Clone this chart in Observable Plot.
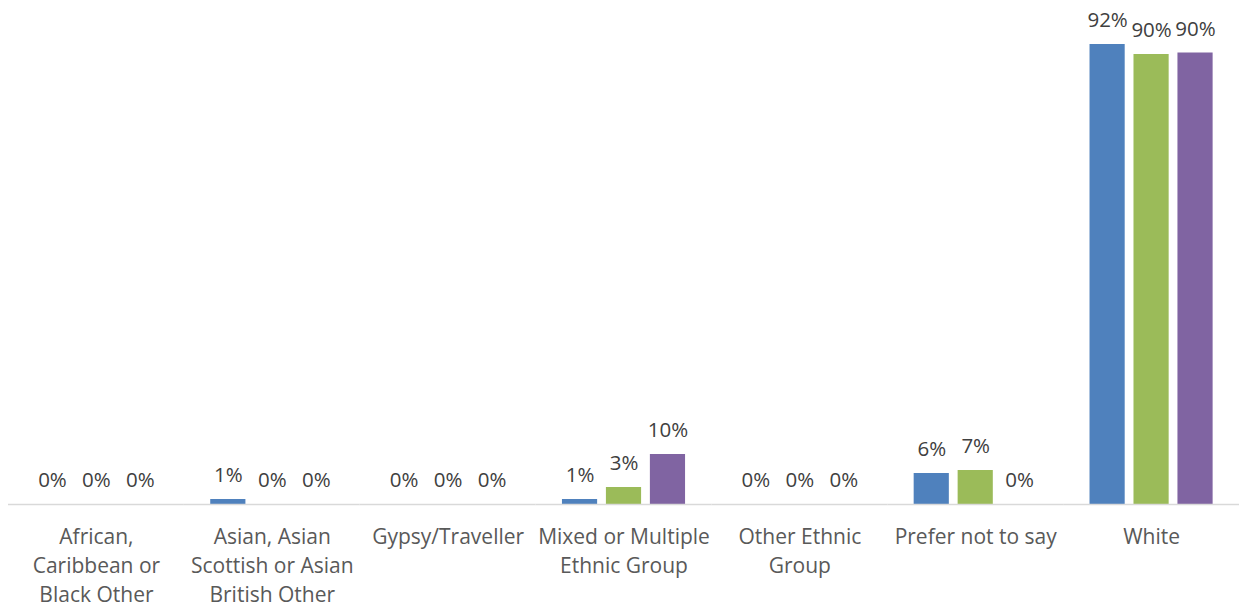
<!DOCTYPE html>
<html>
<head>
<meta charset="utf-8">
<script src="https://cdn.jsdelivr.net/npm/d3@7"></script>
<script src="https://cdn.jsdelivr.net/npm/@observablehq/plot@0.6"></script>
<style>
  html, body { margin: 0; padding: 0; background: #fff; }
  #chart svg { display: block; }
</style>
</head>
<body>
<div id="chart"></div>
<script>
const categories = [
  "African, Caribbean or Black Other",
  "Asian, Asian Scottish or Asian British Other",
  "Gypsy/Traveller",
  "Mixed or Multiple Ethnic Group",
  "Other Ethnic Group",
  "Prefer not to say",
  "White"
];
const categoryLabels = [
  "African,\nCaribbean or\nBlack Other",
  "Asian, Asian\nScottish or Asian\nBritish Other",
  "Gypsy/Traveller",
  "Mixed or Multiple\nEthnic Group",
  "Other Ethnic\nGroup",
  "Prefer not to say",
  "White"
];
const seriesNames = ["Series 1", "Series 2", "Series 3"];
const seriesColors = ["#4f81bd", "#9bbb59", "#8064a2"];
const series1 = [0, 1, 0, 1, 0, 6.2, 92];
const series2 = [0, 0, 0, 3.4, 0, 6.8, 90];
const series3 = [0, 0, 0, 10, 0, 0, 90.3];

const allSeries = [series1, series2, series3];
const data = [];
categories.forEach((c, i) => {
  allSeries.forEach((s, j) => {
    data.push({category: c, series: seriesNames[j], value: s[i], label: Math.round(s[i]) + "%"});
  });
});
const labelMap = new Map(categories.map((c, i) => [c, categoryLabels[i]]));

const chart = Plot.plot({
  width: 1241,
  height: 607,
  marginTop: 4,
  marginBottom: 103,
  marginLeft: 8,
  marginRight: 2,
  style: {fontFamily: "'Open Sans', sans-serif", fontSize: "21px", background: "#fff"},
  fx: {domain: categories, padding: 0, label: null, axis: null, round: false},
  x: {domain: seriesNames, paddingInner: 0.2, paddingOuter: 0.6, axis: null, round: false},
  y: {domain: [0, 100], axis: null},
  color: {domain: seriesNames, range: seriesColors},
  marks: [
    Plot.barY(data, {fx: "category", x: "series", y: "value", fill: "series"}),
    Plot.ruleY([0], {stroke: "#d9d9d9", strokeWidth: 1.5}),
    Plot.text(data, {fx: "category", x: "series", y: "value", text: "label", dy: -24, fill: "#404040", fontSize: 20.5, lineAnchor: "middle"}),
    Plot.axisFx({domain: categories, anchor: "bottom", tickSize: 0, tickPadding: 19, label: null, fontSize: 21, lineHeight: 1.38, fill: "#595959", tickFormat: d => labelMap.get(d), lineAnchor: "top"})
  ]
});
document.getElementById("chart").appendChild(chart);
</script>
</body>
</html>
